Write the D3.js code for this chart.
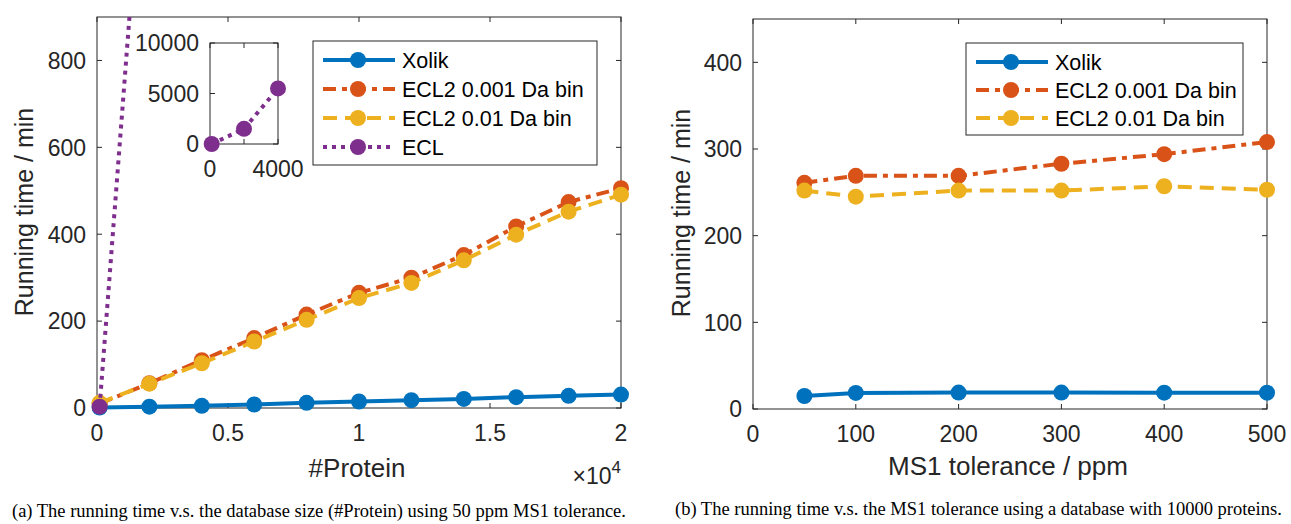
<!DOCTYPE html>
<html>
<head>
<meta charset="utf-8">
<script src="https://cdn.jsdelivr.net/npm/d3@7"></script>
<style>
  body { margin: 0; background: #fff; }
  svg { display: block; font-family: "Liberation Sans", Arial, Helvetica, sans-serif; }
  .caption { font-family: "Liberation Serif", "Times New Roman", serif; }
</style>
</head>
<body>
<svg id="chart" width="1291" height="524"></svg>
<script>
// ---- data ----
const seriesNames = ['Xolik', 'ECL2 0.001 Da bin', 'ECL2 0.01 Da bin', 'ECL'];

// (a) running time vs #Protein
const proteinCounts = [100, 2000, 4000, 6000, 8000, 10000, 12000, 14000, 16000, 18000, 20000];
const xolikByProtein = [1, 3, 5, 8, 12, 15, 18, 21, 25, 28, 31];
const ecl2FineByProtein = [10, 57, 110, 161, 215, 265, 300, 352, 418, 474, 506];
const ecl2CoarseByProtein = [12, 56, 103, 153, 203, 253, 288, 340, 399, 452, 491];
const eclProteinCounts = [100, 2000, 4000];
const eclByProtein = [3, 1500, 5500];

// (b) running time vs MS1 tolerance
const tolerances = [50, 100, 200, 300, 400, 500];
const xolikByTol = [15, 18.5, 19, 19, 18.8, 18.8];
const ecl2FineByTol = [261, 269, 269, 283, 294, 308];
const ecl2CoarseByTol = [252, 245, 252, 252, 257, 253];

const leftYTicks = [0, 200, 400, 600, 800];
const leftXTicks = [0, 5000, 10000, 15000, 20000];
const leftXTickLabels = ['0', '0.5', '1', '1.5', '2'];
const insetXTicks = [0, 2000, 4000];
const insetXTickLabels = ['0', '', '4000'];
const insetYTicks = [0, 5000, 10000];
const rightYTicks = [0, 100, 200, 300, 400];
const rightXTicks = [0, 100, 200, 300, 400, 500];

const captions = [
  '(a) The running time v.s. the database size (#Protein) using 50 ppm MS1 tolerance.',
  '(b) The running time v.s. the MS1 tolerance using a database with 10000 proteins.'
];

// ---- styles ----
const colors = ['#0072BD', '#D95319', '#EDB120', '#7E2F8E'];
const dashes = [null, '13,6,5,6', '14,8', '4,5'];
const axisColor = '#262626';
const lineW = 4, markerR = 8;

const svg = d3.select('#chart');

function drawAxesBox(g, x, y, xTicks, xLabels, yTicks, yLabels, fontSize) {
  const [x0, x1] = x.range();
  const [y0, y1] = y.range();
  g.append('rect')
    .attr('x', x0).attr('y', y1)
    .attr('width', x1 - x0).attr('height', y0 - y1)
    .attr('fill', 'none').attr('stroke', axisColor).attr('stroke-width', 1);
  const tl = 5;
  xTicks.forEach((t, i) => {
    const px = x(t);
    g.append('line').attr('x1', px).attr('x2', px).attr('y1', y0).attr('y2', y0 - tl)
      .attr('stroke', axisColor);
    g.append('line').attr('x1', px).attr('x2', px).attr('y1', y1).attr('y2', y1 + tl)
      .attr('stroke', axisColor);
    g.append('text').attr('x', px).attr('y', y0 + fontSize * 1.45)
      .attr('text-anchor', 'middle').attr('font-size', fontSize).attr('fill', axisColor)
      .text(xLabels[i]);
  });
  yTicks.forEach((t, i) => {
    const py = y(t);
    g.append('line').attr('x1', x0).attr('x2', x0 + tl).attr('y1', py).attr('y2', py)
      .attr('stroke', axisColor);
    g.append('line').attr('x1', x1).attr('x2', x1 - tl).attr('y1', py).attr('y2', py)
      .attr('stroke', axisColor);
    g.append('text').attr('x', x0 - 11).attr('y', py).attr('dy', '0.36em')
      .attr('text-anchor', 'end').attr('font-size', fontSize).attr('fill', axisColor)
      .text(yLabels[i]);
  });
}

function drawSeries(g, x, y, xs, ys, i) {
  const pts = xs.map((v, k) => [v, ys[k]]);
  const line = d3.line().x(d => x(d[0])).y(d => y(d[1]));
  g.append('path').datum(pts)
    .attr('d', line)
    .attr('fill', 'none')
    .attr('stroke', colors[i])
    .attr('stroke-width', lineW)
    .attr('stroke-dasharray', dashes[i]);
  g.selectAll(null).data(pts).enter().append('circle')
    .attr('cx', d => x(d[0])).attr('cy', d => y(d[1]))
    .attr('r', markerR).attr('fill', colors[i]);
}

function drawLegend(g, left, top, width, rowY, names) {
  g.append('rect').attr('x', left).attr('y', top).attr('width', width)
    .attr('height', rowY * names.length + 8)
    .attr('fill', '#fff').attr('stroke', axisColor).attr('stroke-width', 1);
  names.forEach((name, i) => {
    const cy = top + 19 + i * rowY;
    g.append('line').attr('x1', left + 10).attr('x2', left + 82)
      .attr('y1', cy).attr('y2', cy)
      .attr('stroke', colors[i]).attr('stroke-width', lineW)
      .attr('stroke-dasharray', dashes[i]);
    g.append('circle').attr('cx', left + 45).attr('cy', cy).attr('r', markerR)
      .attr('fill', colors[i]);
    g.append('text').attr('x', left + 89).attr('y', cy).attr('dy', '0.36em')
      .attr('font-size', 21.5).attr('fill', '#000').text(name);
  });
}

// ---------- panel (a) ----------
const ga = svg.append('g');
const xa = d3.scaleLinear().domain([0, 20000]).range([97, 621]);
const ya = d3.scaleLinear().domain([0, 900]).range([408, 17]);

svg.append('clipPath').attr('id', 'clipA').append('rect')
  .attr('x', 97 - markerR).attr('y', 17).attr('width', 621 - 97 + 2 * markerR).attr('height', 408 - 17 + markerR);

drawAxesBox(ga, xa, ya, leftXTicks, leftXTickLabels, leftYTicks, leftYTicks.map(String), 23);

const plotA = ga.append('g').attr('clip-path', 'url(#clipA)');
drawSeries(plotA, xa, ya, proteinCounts, xolikByProtein, 0);
drawSeries(plotA, xa, ya, proteinCounts, ecl2FineByProtein, 1);
drawSeries(plotA, xa, ya, proteinCounts, ecl2CoarseByProtein, 2);
drawSeries(plotA, xa, ya, eclProteinCounts, eclByProtein, 3);

ga.append('text').attr('x', 357).attr('y', 477).attr('text-anchor', 'middle')
  .attr('font-size', 26).attr('fill', axisColor).text('#Protein');
const mult = ga.append('text').attr('x', 621).attr('y', 484).attr('text-anchor', 'end')
  .attr('font-size', 23).attr('fill', axisColor);
mult.append('tspan').text('\u00d710');
mult.append('tspan').attr('dy', -11).attr('font-size', 17).text('4');
ga.append('text').attr('transform', 'translate(33,212) rotate(-90)')
  .attr('text-anchor', 'middle').attr('font-size', 25).attr('fill', axisColor)
  .text('Running time / min');

// inset
const xi = d3.scaleLinear().domain([0, 4000]).range([210, 278]);
const yi = d3.scaleLinear().domain([0, 10000]).range([144, 43]);
const gi = ga.append('g');
gi.append('rect').attr('x', 210).attr('y', 43).attr('width', 68).attr('height', 101).attr('fill', '#fff');
drawAxesBox(gi, xi, yi, insetXTicks, insetXTickLabels, insetYTicks, insetYTicks.map(String), 23);
drawSeries(gi, xi, yi, eclProteinCounts, eclByProtein, 3);

drawLegend(ga, 313, 41, 284, 29, seriesNames);

// ---------- panel (b) ----------
const gb = svg.append('g');
const xb = d3.scaleLinear().domain([0, 500]).range([753, 1267]);
const yb = d3.scaleLinear().domain([0, 450]).range([409, 19]);
drawAxesBox(gb, xb, yb, rightXTicks, rightXTicks.map(String), rightYTicks, rightYTicks.map(String), 23);
drawSeries(gb, xb, yb, tolerances, xolikByTol, 0);
drawSeries(gb, xb, yb, tolerances, ecl2FineByTol, 1);
drawSeries(gb, xb, yb, tolerances, ecl2CoarseByTol, 2);

gb.append('text').attr('x', 1008).attr('y', 475).attr('text-anchor', 'middle')
  .attr('font-size', 26).attr('fill', axisColor).text('MS1 tolerance / ppm');
gb.append('text').attr('transform', 'translate(690,213) rotate(-90)')
  .attr('text-anchor', 'middle').attr('font-size', 25).attr('fill', axisColor)
  .text('Running time / min');

drawLegend(gb, 966, 43, 277, 28, seriesNames.slice(0, 3));

// captions
svg.append('text').attr('class', 'caption').attr('x', 12).attr('y', 517)
  .attr('font-size', 18.5).attr('fill', '#000').text(captions[0]);
svg.append('text').attr('class', 'caption').attr('x', 675).attr('y', 515)
  .attr('font-size', 18.5).attr('fill', '#000').text(captions[1]);
</script>
</body>
</html>
